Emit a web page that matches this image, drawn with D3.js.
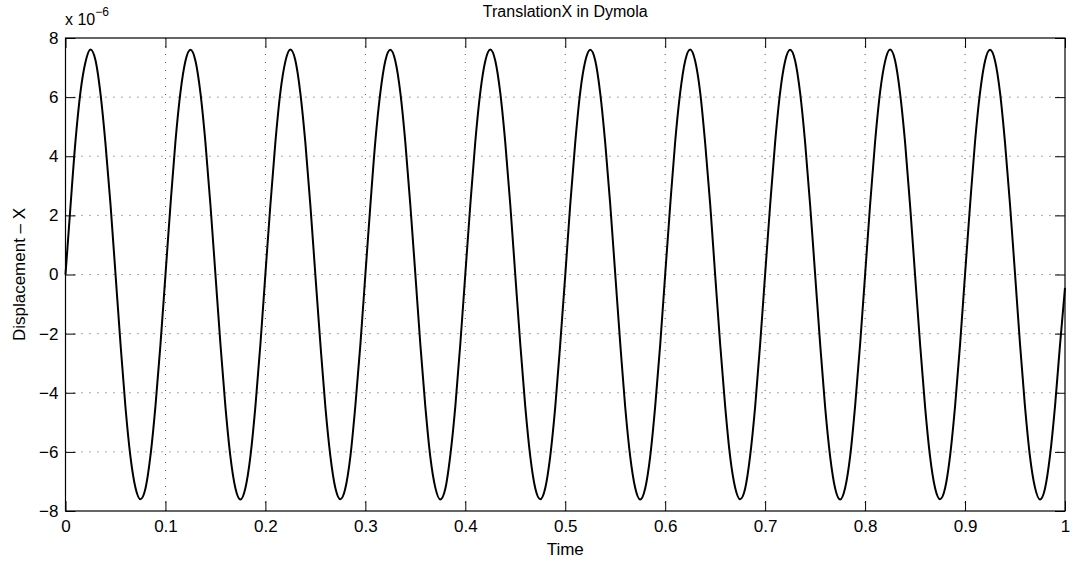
<!DOCTYPE html>
<html>
<head>
<meta charset="utf-8">
<script src="https://cdn.jsdelivr.net/npm/d3@7"></script>
<style>
  body { margin: 0; background: #fff; }
  svg { font-family: "Liberation Sans", Arial, sans-serif; }
</style>
</head>
<body>
<div id="chart"></div>
<script>
// sample step 0.005 s, values in units of 1e-6
const timeStep = 0.005;
const displacement = [
  0, 2.31, 4.52, 6.18, 7.19, 7.61, 7.25, 6.12, 4.43, 2.38, 0.03, -2.33, -4.49, -6.17, -7.21, -7.60, -7.24, -6.13, -4.45, -2.37,
  -0.02, 2.34, 4.50, 6.16, 7.22, 7.60, 7.23, 6.14, 4.46, 2.36, 0.01, -2.35, -4.47, -6.16, -7.23, -7.61, -7.22, -6.15, -4.46, -2.36,
  0.02, 2.36, 4.48, 6.17, 7.21, 7.61, 7.24, 6.13, 4.45, 2.34, -0.02, -2.34, -4.48, -6.14, -7.22, -7.60, -7.23, -6.16, -4.44, -2.38,
  -0.01, 2.33, 4.51, 6.15, 7.23, 7.60, 7.22, 6.15, 4.47, 2.35, 0.02, -2.36, -4.46, -6.17, -7.21, -7.61, -7.25, -6.12, -4.47, -2.35,
  0.01, 2.35, 4.49, 6.16, 7.22, 7.61, 7.23, 6.14, 4.46, 2.36, -0.01, -2.35, -4.47, -6.15, -7.23, -7.60, -7.22, -6.14, -4.48, -2.34,
  -0.03, 2.37, 4.47, 6.17, 7.21, 7.60, 7.24, 6.13, 4.45, 2.37, 0.02, -2.33, -4.49, -6.16, -7.22, -7.61, -7.23, -6.15, -4.45, -2.37,
  0.01, 2.34, 4.50, 6.15, 7.23, 7.61, 7.22, 6.16, 4.44, 2.38, -0.02, -2.36, -4.46, -6.17, -7.21, -7.60, -7.24, -6.13, -4.47, -2.35,
  0.02, 2.35, 4.48, 6.16, 7.22, 7.60, 7.23, 6.14, 4.46, 2.35, 0.01, -2.34, -4.48, -6.15, -7.23, -7.61, -7.22, -6.16, -4.45, -2.36,
  -0.01, 2.36, 4.49, 6.17, 7.21, 7.61, 7.24, 6.13, 4.47, 2.34, -0.02, -2.35, -4.47, -6.16, -7.22, -7.60, -7.23, -6.14, -4.46, -2.37,
  0.01, 2.34, 4.50, 6.15, 7.22, 7.60, 7.23, 6.15, 4.45, 2.36, 0.02, -2.36, -4.48, -6.17, -7.21, -7.61, -7.24, -6.13, -4.46, -2.38,
  -0.45
];
const xTicks = [0, 0.1, 0.2, 0.3, 0.4, 0.5, 0.6, 0.7, 0.8, 0.9, 1];
const yTicks = [-8, -6, -4, -2, 0, 2, 4, 6, 8];
const titleText = "TranslationX in Dymola";
const xLabel = "Time";
const yLabel = "Displacement \u2013 X";

const W = 1080, H = 562;
const margin = { top: 38, right: 15, bottom: 51, left: 65.5 };
const width = W - margin.left - margin.right;
const height = H - margin.top - margin.bottom;
const fontSize = "17px";

const data = displacement.map((v, i) => ({ t: i * timeStep, v: v }));

const x = d3.scaleLinear().domain([0, 1]).range([0, width]);
const y = d3.scaleLinear().domain([-8, 8]).range([height, 0]);

const svg = d3.select("#chart").append("svg")
  .attr("width", W)
  .attr("height", H);

const g = svg.append("g")
  .attr("transform", `translate(${margin.left},${margin.top})`);

// dotted grid
g.selectAll(".gx")
  .data(xTicks.slice(1, -1))
  .enter().append("line")
  .attr("x1", d => x(d)).attr("x2", d => x(d))
  .attr("y1", 0).attr("y2", height)
  .attr("stroke", "#555").attr("stroke-width", 1)
  .attr("stroke-dasharray", "1,7");

g.selectAll(".gy")
  .data(yTicks.slice(1, -1))
  .enter().append("line")
  .attr("y1", d => y(d)).attr("y2", d => y(d))
  .attr("x1", 0).attr("x2", width)
  .attr("stroke", "#555").attr("stroke-width", 1)
  .attr("stroke-dasharray", "1,7");

// line
const line = d3.line()
  .x(d => x(d.t))
  .y(d => y(d.v))
  .curve(d3.curveMonotoneX);

g.append("path")
  .datum(data)
  .attr("fill", "none")
  .attr("stroke", "#000")
  .attr("stroke-width", 2)
  .attr("stroke-linejoin", "round")
  .attr("d", line);

// axes with inward ticks (MATLAB style)
const tickLen = 10;
const xAxis = g.append("g")
  .attr("transform", `translate(0,${height})`)
  .call(d3.axisBottom(x).tickValues(xTicks).tickSize(-tickLen).tickPadding(9)
    .tickFormat(d => d3.format("")(d)));
const xAxisTop = g.append("g")
  .call(d3.axisTop(x).tickValues(xTicks).tickSize(-tickLen).tickFormat(""));
const yAxis = g.append("g")
  .call(d3.axisLeft(y).tickValues(yTicks).tickSize(-tickLen).tickPadding(7)
    .tickFormat(d => d < 0 ? "\u2212" + Math.abs(d) : d));
const yAxisRight = g.append("g")
  .attr("transform", `translate(${width},0)`)
  .call(d3.axisRight(y).tickValues(yTicks).tickSize(-tickLen).tickFormat(""));

[xAxis, xAxisTop, yAxis, yAxisRight].forEach(a => {
  a.select(".domain").remove();
  a.selectAll("line").attr("stroke", "#000");
  a.selectAll("text").attr("fill", "#000").style("font-size", fontSize);
});

// box
g.append("rect")
  .attr("x", 0).attr("y", 0)
  .attr("width", width).attr("height", height)
  .attr("fill", "none")
  .attr("stroke", "#000")
  .attr("stroke-width", 1.2);

// title and labels
svg.append("text")
  .attr("x", margin.left + width / 2)
  .attr("y", 17)
  .attr("text-anchor", "middle")
  .style("font-size", "16px")
  .text(titleText);

svg.append("text")
  .attr("x", margin.left + width / 2)
  .attr("y", 555)
  .attr("text-anchor", "middle")
  .style("font-size", fontSize)
  .text(xLabel);

svg.append("text")
  .attr("transform", `translate(25,${margin.top + height / 2}) rotate(-90)`)
  .attr("text-anchor", "middle")
  .style("font-size", fontSize)
  .text(yLabel);

// exponent label
const expo = svg.append("text")
  .attr("x", 65)
  .attr("y", 25)
  .style("font-size", "16px");
expo.append("tspan").text("x 10");
expo.append("tspan").attr("dy", -9).style("font-size", "12px").text("\u22126");
</script>
</body>
</html>
